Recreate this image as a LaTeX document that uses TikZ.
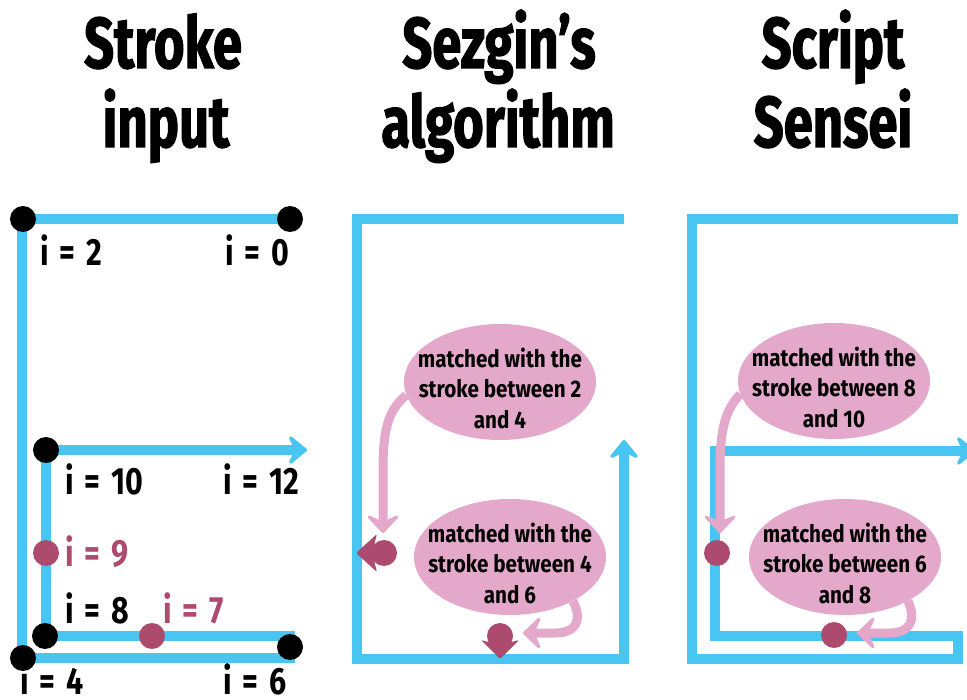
\documentclass[tikz,border=0pt]{standalone}
\usepackage{fontspec}
\setmainfont{Fira Sans}
\newfontfamily\headfont{Fira Sans}[FakeStretch=0.73,FakeBold=1.5]
\newfontfamily\tagfont{Fira Sans}[FakeStretch=0.8,WordSpace=1.5]
\newfontfamily\notefont{Fira Sans}[FakeStretch=0.86]
\usetikzlibrary{arrows.meta,shapes.geometric}
\definecolor{strokeblue}{HTML}{48C6F1}
\definecolor{notepink}{HTML}{E4A9CA}
\definecolor{markpink}{HTML}{AD4B6E}
\tikzset{
  bluestroke/.style={draw=strokeblue,line width=10pt,line join=miter},
  bluetip/.style={-{Stealth[length=22pt,width=36pt,inset=9pt,round]}},
  blackdot/.style={circle,fill=black,minimum size=26pt,inner sep=0pt},
  pinkdot/.style={circle,fill=markpink,minimum size=26pt,inner sep=0pt},
  headline/.style={font=\headfont\bfseries\fontsize{72}{80}\selectfont,anchor=base,inner sep=0pt},
  tag/.style={font=\tagfont\bfseries\fontsize{38}{40}\selectfont,anchor=base west,inner sep=0pt},
  pinktag/.style={tag,text=markpink},
  bubble/.style={ellipse,fill=notepink,minimum width=192pt,minimum height=116pt,inner sep=0pt},
  bubbletext/.style={align=center,font=\notefont\bfseries\fontsize{24}{30.5}\selectfont,inner sep=0pt},
  notearrow/.style={draw=notepink,line width=9pt,-{Stealth[length=21pt,width=40pt,inset=9pt,round]}}
}
\begin{document}
\begin{tikzpicture}[x=1pt,y=-1pt]
\useasboundingbox (0,0) rectangle (967,700);

% column headings
\node[headline] (h1a) at (163,68) {Stroke};
\node[headline] (h1b) at (166,147) {input};
\node[headline] (h2a) at (499,68) {Sezgin’s};
\node[headline] (h2b) at (498,147) {algorithm};
\node[headline] (h3a) at (833,68) {Script};
\node[headline] (h3b) at (833,147) {Sensei};

% ---------- stroke input ----------
\draw[bluestroke] (290,219) -- (22,219) -- (22,658) -- (290,658) -- (290,636) -- (46,636) -- (46,450) -- (290,450);
\draw[bluestroke,bluetip] (280,450) -- (307,450);

\node[blackdot] (p0) at (290,219) {};
\node[blackdot] (p2) at (23,219) {};
\node[blackdot] (p4) at (23,658) {};
\node[blackdot] (p6) at (290,647) {};
\node[blackdot] (p8) at (45,636) {};
\node[blackdot] (p10) at (46,450) {};
\node[pinkdot] (p7) at (152,636) {};
\node[pinkdot] (p9) at (46,553) {};

\node[tag] (l2) at (40,266) {i = 2};
\node[tag] (l0) at (225,266) {i = 0};
\node[tag] (l10) at (65,495) {i = 10};
\node[tag] (l12) at (223,495) {i = 12};
\node[pinktag] (l9) at (65,566) {i = 9};
\node[tag] (l8) at (65,623) {i = 8};
\node[pinktag] (l7) at (163,623) {i = 7};
\node[tag] (l4) at (20,694) {i = 4};
\node[tag] (l6) at (223,694) {i = 6};

% ---------- Sezgin's algorithm ----------
\draw[bluestroke] (624,219) -- (357,219) -- (357,659) -- (624,659) -- (624,470);
\draw[bluestroke,bluetip] (624,480) -- (624,440);

\node[bubble] (e1) at (500,382) {};
\node[bubbletext] (e1t) at ([yshift=-6pt]e1.center) {matched with the\\stroke between 2\\and 4};
\node[bubble] (e2) at (510,557) {};
\node[bubbletext] (e2t) at ([yshift=-6pt]e2.center) {matched with the\\stroke between 4\\and 6};

\coordinate (m1tip) at (383,533);
\coordinate (m2tip) at (523,633);
\draw[notearrow] (e1.188) .. controls (388,410) and (383,430) .. (383,470) -- (m1tip);
\draw[notearrow] (e2.-35) .. controls (582,618) and (578,633) .. (555,633) -- (m2tip);

\node[pinkdot] (m1) at (384,553) {};
\fill[markpink,rounded corners=1.5pt] (356,553) -- (377,534) -- (372,553) -- (377,572) -- cycle;
\node[pinkdot] (m2) at (500,636) {};
\fill[markpink,rounded corners=1.5pt] (500,659) -- (481,640) -- (500,645) -- (519,640) -- cycle;

% ---------- Script Sensei ----------
\draw[bluestroke] (958,219) -- (692,219) -- (692,659) -- (958,659) -- (958,636) -- (715,636) -- (715,451) -- (950,451);
\draw[bluestroke,bluetip] (945,451) -- (975,451);

\node[bubble] (e3) at (834,381) {};
\node[bubbletext] (e3t) at ([yshift=-6pt]e3.center) {matched with the\\stroke between 8\\and 10};
\node[bubble] (e4) at (845,557) {};
\node[bubbletext] (e4t) at ([yshift=-6pt]e4.center) {matched with the\\stroke between 6\\and 8};

\coordinate (r1tip) at (720,533);
\coordinate (r2tip) at (857,633);
\draw[notearrow] (e3.188) .. controls (725,410) and (720,430) .. (720,470) -- (r1tip);
\draw[notearrow] (e4.-35) .. controls (916,618) and (912,633) .. (889,633) -- (r2tip);

\node[pinkdot] (s1) at (717,553) {};
\node[pinkdot] (s2) at (834,635) {};
\end{tikzpicture}
\end{document}
